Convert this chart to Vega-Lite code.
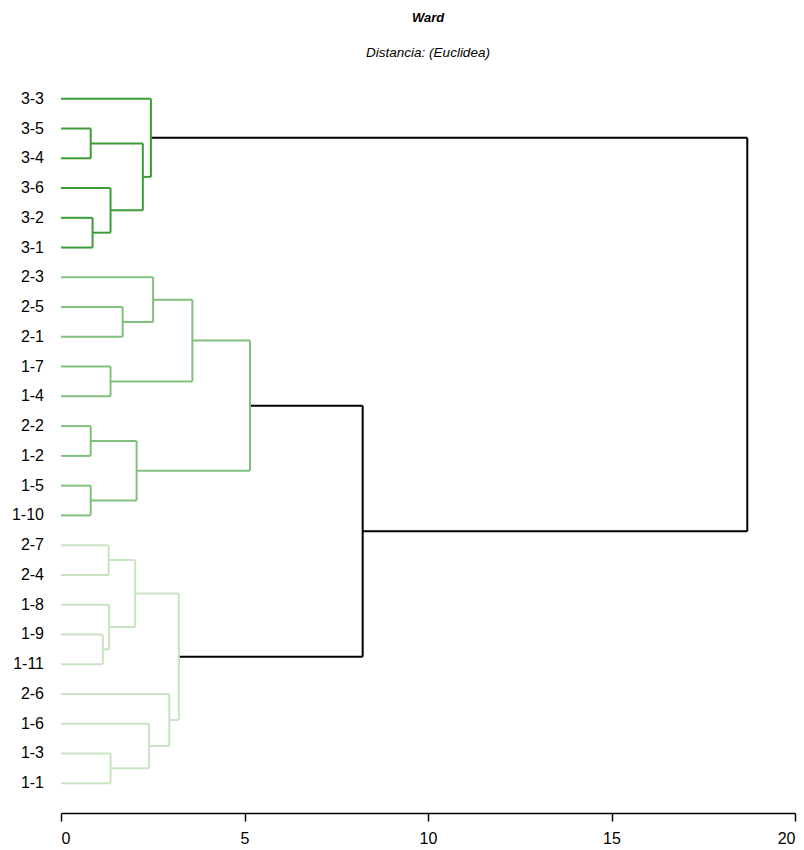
{
  "$schema": "https://vega.github.io/schema/vega-lite/v6.json",
  "autosize": {"type": "none"},
  "padding": {"left": 61, "top": 69, "right": 9, "bottom": 37},
  "width": 734,
  "height": 744,
  "background": "white",
  "config": {"view": {"stroke": null}, "font": "Liberation Sans"},
  "title": {
    "text": "Ward",
    "subtitle": "Distancia: (Euclidea)",
    "anchor": "middle",
    "font": "Liberation Sans",
    "fontSize": 13,
    "fontStyle": "italic",
    "fontWeight": "bold",
    "color": "black",
    "subtitleFont": "Liberation Sans",
    "subtitleFontSize": 13.5,
    "subtitleFontStyle": "italic",
    "subtitleColor": "black",
    "subtitlePadding": 21,
    "offset": 10
  },
  "datasets": {
    "merges": [
      {"id": "A", "h": 0.81, "yl": 1, "yr": 2, "hl": 0, "hr": 0, "grp": "g1"},
      {"id": "B", "h": 0.86, "yl": 4, "yr": 5, "hl": 0, "hr": 0, "grp": "g1"},
      {"id": "C", "h": 1.35, "yl": 3, "yr": 4.5, "hl": 0, "hr": 0.86, "grp": "g1"},
      {"id": "D", "h": 2.23, "yl": 1.5, "yr": 3.75, "hl": 0.81, "hr": 1.35, "grp": "g1"},
      {"id": "E", "h": 2.45, "yl": 0, "yr": 2.625, "hl": 0, "hr": 2.23, "grp": "g1"},
      {"id": "F", "h": 1.68, "yl": 7, "yr": 8, "hl": 0, "hr": 0, "grp": "g2"},
      {"id": "G", "h": 2.51, "yl": 6, "yr": 7.5, "hl": 0, "hr": 1.68, "grp": "g2"},
      {"id": "H", "h": 1.35, "yl": 9, "yr": 10, "hl": 0, "hr": 0, "grp": "g2"},
      {"id": "I", "h": 3.58, "yl": 6.75, "yr": 9.5, "hl": 2.51, "hr": 1.35, "grp": "g2"},
      {"id": "J", "h": 0.81, "yl": 11, "yr": 12, "hl": 0, "hr": 0, "grp": "g2"},
      {"id": "K", "h": 0.81, "yl": 13, "yr": 14, "hl": 0, "hr": 0, "grp": "g2"},
      {"id": "L", "h": 2.06, "yl": 11.5, "yr": 13.5, "hl": 0.81, "hr": 0.81, "grp": "g2"},
      {"id": "M", "h": 5.15, "yl": 8.125, "yr": 12.5, "hl": 3.58, "hr": 2.06, "grp": "g2"},
      {"id": "N", "h": 1.30, "yl": 15, "yr": 16, "hl": 0, "hr": 0, "grp": "g3"},
      {"id": "O", "h": 1.14, "yl": 18, "yr": 19, "hl": 0, "hr": 0, "grp": "g3"},
      {"id": "P", "h": 1.31, "yl": 17, "yr": 18.5, "hl": 0, "hr": 1.14, "grp": "g3"},
      {"id": "Q", "h": 2.02, "yl": 15.5, "yr": 17.75, "hl": 1.30, "hr": 1.31, "grp": "g3"},
      {"id": "R", "h": 1.35, "yl": 22, "yr": 23, "hl": 0, "hr": 0, "grp": "g3"},
      {"id": "S", "h": 2.40, "yl": 21, "yr": 22.5, "hl": 0, "hr": 1.35, "grp": "g3"},
      {"id": "T", "h": 2.95, "yl": 20, "yr": 21.75, "hl": 0, "hr": 2.40, "grp": "g3"},
      {"id": "U", "h": 3.21, "yl": 16.625, "yr": 20.875, "hl": 2.02, "hr": 2.95, "grp": "g3"},
      {"id": "V", "h": 8.22, "yl": 10.3125, "yr": 18.75, "hl": 5.15, "hr": 3.21, "grp": "top"},
      {"id": "W", "h": 18.70, "yl": 1.3125, "yr": 14.53125, "hl": 2.45, "hr": 8.22, "grp": "top"}
    ],
    "leaves": [
      {"label": "3-3", "pos": 0}, {"label": "3-5", "pos": 1}, {"label": "3-4", "pos": 2},
      {"label": "3-6", "pos": 3}, {"label": "3-2", "pos": 4}, {"label": "3-1", "pos": 5},
      {"label": "2-3", "pos": 6}, {"label": "2-5", "pos": 7}, {"label": "2-1", "pos": 8},
      {"label": "1-7", "pos": 9}, {"label": "1-4", "pos": 10}, {"label": "2-2", "pos": 11},
      {"label": "1-2", "pos": 12}, {"label": "1-5", "pos": 13}, {"label": "1-10", "pos": 14},
      {"label": "2-7", "pos": 15}, {"label": "2-4", "pos": 16}, {"label": "1-8", "pos": 17},
      {"label": "1-9", "pos": 18}, {"label": "1-11", "pos": 19}, {"label": "2-6", "pos": 20},
      {"label": "1-6", "pos": 21}, {"label": "1-3", "pos": 22}, {"label": "1-1", "pos": 23}
    ]
  },
  "layer": [
    {
      "data": {"name": "merges"},
      "mark": {"type": "rule", "strokeWidth": 2},
      "encoding": {
        "x": {"field": "hl", "type": "quantitative", "scale": {"domain": [0, 20], "nice": false, "zero": false},
              "axis": {"values": [0, 5, 10, 15, 20], "title": null, "grid": false, "domainColor": "black", "domainWidth": 1.5,
                       "tickColor": "black", "tickWidth": 1.5, "tickSize": 8, "labelFontSize": 16, "labelColor": "black",
                       "labelPadding": 9, "labelFont": "Liberation Sans"}},
        "x2": {"field": "h"},
        "y": {"field": "yl", "type": "quantitative", "scale": {"domain": [-1, 24], "reverse": true, "nice": false, "zero": false}, "axis": null},
        "color": {"field": "grp", "type": "nominal", "legend": null,
                  "scale": {"domain": ["g1", "g2", "g3", "top"], "range": ["#3d9c38", "#80c07c", "#c8e4c2", "#000000"]}}
      }
    },
    {
      "data": {"name": "merges"},
      "mark": {"type": "rule", "strokeWidth": 2},
      "encoding": {
        "x": {"field": "hr", "type": "quantitative"},
        "x2": {"field": "h"},
        "y": {"field": "yr", "type": "quantitative"},
        "color": {"field": "grp", "type": "nominal", "legend": null}
      }
    },
    {
      "data": {"name": "merges"},
      "mark": {"type": "rule", "strokeWidth": 2},
      "encoding": {
        "x": {"field": "h", "type": "quantitative"},
        "y": {"field": "yl", "type": "quantitative"},
        "y2": {"field": "yr"},
        "color": {"field": "grp", "type": "nominal", "legend": null}
      }
    },
    {
      "data": {"name": "leaves"},
      "mark": {"type": "text", "align": "right", "baseline": "middle", "dx": -17, "fontSize": 16, "font": "Liberation Sans", "color": "black"},
      "encoding": {
        "x": {"datum": 0, "type": "quantitative"},
        "y": {"field": "pos", "type": "quantitative"},
        "text": {"field": "label"}
      }
    }
  ]
}
